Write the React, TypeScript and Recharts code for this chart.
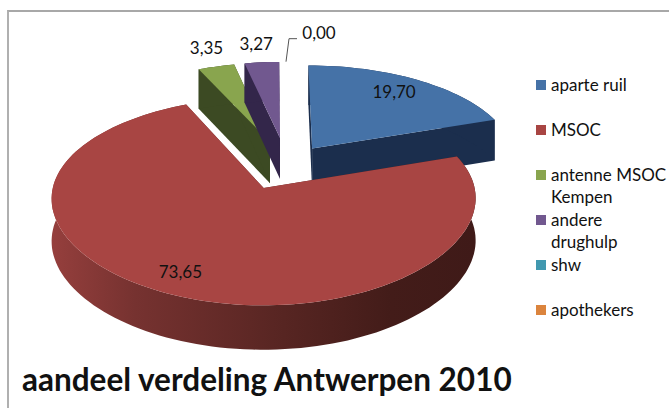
import { Legend, Pie, PieChart } from "recharts";

const categories = ["aparte ruil", "MSOC", "antenne MSOC Kempen", "andere drughulp", "shw", "apothekers"];
const shares = [19.7, 73.65, 3.35, 3.27, 0, 0];
const colors = ["#4572A7", "#A84543", "#89A54E", "#71588F", "#4198AF", "#DB843D"];
const sideColors = ["#1B2E4D", "url(#msocSide)", "#3C4A23", "#33264A", "#1F4A56", "#6E421E"];

const data = categories.map((name, i) => ({ name, value: shares[i], fill: colors[i] }));

// fake 3D: a disc seen from above with a bit of perspective
const TILT = 98 / 209;
const DEPTH = 42;
// how far each slice is pulled out, and its radius, in disc units
const explode = [
  { x: 0.208, y: 0.32, r: 0.99 },
  { x: -0.03, y: -0.092, r: 1 },
  { x: 0, y: 0.392, r: 0.95 },
  { x: 0.05, y: 0.437, r: 0.92 },
  { x: 0, y: 0.36, r: 1 },
  { x: 0, y: 0.36, r: 1 },
];

const project = (cx: number, cy: number, f: number, x: number, y: number, z = 0) => {
  const sx = 1 / (1 + 0.1 * y);
  const sy = 1 / (1 + (y < 0 ? 0.14 : 0.1) * y);
  const sz = 1 / (1 + 0.05 * y);
  return [cx + f * x * sx, cy - f * TILT * y * sy + z * sz];
};

const toPath = (pts: number[][]) =>
  "M" + pts.map((p) => p[0].toFixed(1) + "," + p[1].toFixed(1)).join("L") + "Z";

const SliceShape = (props: any) => {
  const { cx, cy, outerRadius, startAngle, endAngle, name } = props;
  const i = categories.indexOf(name);
  if (Math.abs(endAngle - startAngle) < 0.01) return null;
  const e = explode[i];
  const steps = Math.max(2, Math.ceil(Math.abs(endAngle - startAngle) / 2));
  const rim: number[][] = [];
  for (let k = 0; k <= steps; k++) {
    const a = ((startAngle + ((endAngle - startAngle) * k) / steps) * Math.PI) / 180;
    rim.push([e.x + e.r * Math.cos(a), e.y + e.r * Math.sin(a)]);
  }
  const top = rim.map((p) => project(cx, cy, outerRadius, p[0], p[1]));
  const low = rim.map((p) => project(cx, cy, outerRadius, p[0], p[1], DEPTH));
  const apexTop = project(cx, cy, outerRadius, e.x, e.y);
  const apexLow = project(cx, cy, outerRadius, e.x, e.y, DEPTH);
  const side = sideColors[i];
  return (
    <g>
      <defs>
        <linearGradient id="msocSide" gradientUnits="userSpaceOnUse" x1={50} y1={0} x2={475} y2={0}>
          <stop offset="0" stopColor="#963F3D" />
          <stop offset="0.2" stopColor="#763230" />
          <stop offset="0.55" stopColor="#572522" />
          <stop offset="0.8" stopColor="#431C19" />
          <stop offset="1" stopColor="#3F1A18" />
        </linearGradient>
      </defs>
      <path d={toPath([apexTop, top[0], low[0], apexLow])} fill={side} />
      <path d={toPath([apexTop, top[steps], low[steps], apexLow])} fill={side} />
      <path d={toPath([...top, ...low.slice().reverse()])} fill={side} />
      <path d={toPath([apexTop, ...top])} fill={colors[i]} />
    </g>
  );
};

const labelText = (v: number) => v.toFixed(2).replace(".", ",");

// label distance along the slice middle, in disc units, plus a small nudge
const labelSpots = [
  { r: 0.81, dx: -5, dy: 0 },
  { r: 0.82, dx: -8, dy: -1 },
  { r: 1.22, dx: 4, dy: 0 },
  { r: 1.18, dx: -1, dy: 0 },
];

const SliceLabel = (props: any) => {
  const { cx, cy, outerRadius, midAngle, index, value } = props;
  if (index === 5) return null;
  const style = { fontFamily: "Lato", fontSize: 17, fill: "#111" };
  if (index === 4) {
    const a = project(cx, cy, outerRadius, 0.087, 1.36);
    return (
      <g>
        <polyline
          points={`${a[0]},${a[1]} ${a[0] + 3},${a[1] - 23} ${a[0] + 11},${a[1] - 23}`}
          fill="none"
          stroke="#555"
          strokeWidth={1}
        />
        <text x={a[0] + 33} y={a[1] - 29} textAnchor="middle" dominantBaseline="central" style={style}>
          {labelText(value)}
        </text>
      </g>
    );
  }
  const e = explode[index];
  const s = labelSpots[index];
  const rad = (midAngle * Math.PI) / 180;
  const p = project(cx, cy, outerRadius, e.x + s.r * Math.cos(rad), e.y + s.r * Math.sin(rad));
  return (
    <text x={p[0] + s.dx} y={p[1] + s.dy} textAnchor="middle" dominantBaseline="central" style={style}>
      {labelText(value)}
    </text>
  );
};

const LegendList = ({ payload }: any) => (
  <div style={{ fontFamily: "Lato", fontSize: 17, lineHeight: "22px", color: "#111" }}>
    {(payload || []).map((item: any) => (
      <div key={item.value} style={{ position: "relative", height: 45, paddingLeft: 15, boxSizing: "border-box" }}>
        <span
          style={{ position: "absolute", left: 0, top: 6, width: 10, height: 10, background: item.color }}
        />
        {item.value}
      </div>
    ))}
  </div>
);

export default function App() {
  return (
    <div style={{ position: "absolute", left: 0, top: 0, width: 669, height: 408, background: "#fff", overflow: "hidden" }}>
      <div style={{ position: "absolute", left: 7, top: 10, width: 662, height: 398, borderLeft: "2px solid #b0b0b0", borderTop: "2px solid #a8a8a8" }} />
      <PieChart width={669} height={408} margin={{ top: 0, right: 0, bottom: 0, left: 0 }} style={{ position: "absolute", left: 0, top: 0 }}>
        <Pie
          data={data}
          dataKey="value"
          nameKey="name"
          cx={270}
          cy={179}
          outerRadius={209}
          startAngle={90}
          endAngle={-270}
          stroke="none"
          isAnimationActive={false}
          shape={SliceShape}
          label={SliceLabel}
          labelLine={false}
        />
        <Legend
          layout="vertical"
          align="right"
          verticalAlign="top"
          itemSorter={null}
          content={LegendList}
          wrapperStyle={{ left: 536, top: 74, width: 133, right: "auto" }}
        />
        <text x={22} y={391} style={{ fontFamily: "Lato", fontWeight: 700, fontSize: 31.5, fill: "#111" }}>
          aandeel verdeling Antwerpen 2010
        </text>
      </PieChart>
    </div>
  );
}
